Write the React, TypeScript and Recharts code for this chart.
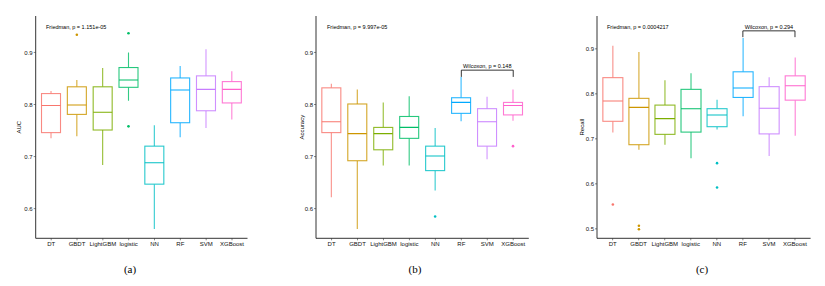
import React from 'react';
import { ComposedChart, Bar, XAxis, YAxis, ReferenceLine } from 'recharts';

const categories = ['DT', 'GBDT', 'LightGBM', 'logistic', 'NN', 'RF', 'SVM', 'XGBoost'];
const colors = ['#F8766D', '#CD9600', '#7CAE00', '#00BE67', '#00BFC4', '#00A9FF', '#C77CFF', '#FF61CC'];

const aucLow = [0.735, 0.739, 0.684, 0.807, 0.561, 0.737, 0.755, 0.771];
const aucQ1 = [0.746, 0.781, 0.751, 0.833, 0.647, 0.765, 0.788, 0.803];
const aucMed = [0.798, 0.799, 0.785, 0.847, 0.688, 0.828, 0.829, 0.829];
const aucQ3 = [0.821, 0.834, 0.834, 0.871, 0.72, 0.851, 0.855, 0.844];
const aucHigh = [0.826, 0.847, 0.87, 0.9, 0.76, 0.874, 0.906, 0.864];
const aucOut = [[], [0.934], [], [0.937, 0.758], [], [], [], []];

const accLow = [0.622, 0.561, 0.683, 0.683, 0.635, 0.768, 0.695, 0.769];
const accQ1 = [0.746, 0.692, 0.713, 0.735, 0.673, 0.783, 0.72, 0.78];
const accMed = [0.767, 0.744, 0.744, 0.756, 0.701, 0.804, 0.767, 0.798];
const accQ3 = [0.832, 0.801, 0.756, 0.777, 0.72, 0.813, 0.792, 0.804];
const accHigh = [0.84, 0.829, 0.804, 0.816, 0.755, 0.853, 0.815, 0.829];
const accOut = [[], [], [], [], [0.585], [], [], [0.72]];

const recLow = [0.714, 0.676, 0.687, 0.657, 0.721, 0.75, 0.662, 0.707];
const recQ1 = [0.739, 0.687, 0.71, 0.715, 0.727, 0.792, 0.711, 0.786];
const recMed = [0.784, 0.77, 0.745, 0.767, 0.753, 0.813, 0.768, 0.818];
const recQ3 = [0.836, 0.79, 0.775, 0.81, 0.767, 0.849, 0.816, 0.84];
const recHigh = [0.907, 0.893, 0.83, 0.846, 0.787, 0.924, 0.837, 0.881];
const recOut = [[0.554], [0.507, 0.499], [], [], [0.646, 0.592], [], [], []];

const aucTicks = [0.6, 0.7, 0.8, 0.9];
const accTicks = [0.6, 0.7, 0.8, 0.9];
const recTicks = [0.5, 0.6, 0.7, 0.8, 0.9];

function build(low: number[], q1: number[], med: number[], q3: number[], high: number[], out: number[][]) {
  return categories.map((name, i) => ({
    name,
    range: [low[i], high[i]],
    low: low[i],
    q1: q1[i],
    med: med[i],
    q3: q3[i],
    high: high[i],
    out: out[i],
    color: colors[i],
  }));
}

const BoxShape = (props: any) => {
  const { x, y, width, height, payload } = props;
  const hi = payload.high;
  const lo = payload.low;
  const yOf = (v: number) => y + (height * (hi - v)) / (hi - lo);
  const cx = x + width / 2;
  const c = payload.color;
  const sw = 1.1;
  return (
    <g>
      <line x1={cx} x2={cx} y1={yOf(hi)} y2={yOf(payload.q3)} stroke={c} strokeWidth={sw} strokeOpacity={0.8} />
      <line x1={cx} x2={cx} y1={yOf(payload.q1)} y2={yOf(lo)} stroke={c} strokeWidth={sw} strokeOpacity={0.8} />
      <rect x={x} y={yOf(payload.q3)} width={width} height={yOf(payload.q1) - yOf(payload.q3)} fill="#fff" stroke={c} strokeWidth={sw} strokeOpacity={0.85} />
      <line x1={x} x2={x + width} y1={yOf(payload.med)} y2={yOf(payload.med)} stroke={c} strokeWidth={sw} />
      {payload.out.map((v: number, k: number) => (
        <circle key={k} cx={cx} cy={yOf(v)} r={1.3} fill={c} />
      ))}
    </g>
  );
};

const font = '"Liberation Sans", Arial, Helvetica, sans-serif';

type PanelProps = {
  data: any[];
  left: number;
  right: number;
  domain: [number, number];
  ticks: number[];
  title: string;
  titleOffset: number;
  friedman: string;
  friedmanX: number;
  wilcoxon?: { label: string; y: number; drop: number };
};

function Panel({ data, left, right, domain, ticks, title, titleOffset, friedman, friedmanX, wilcoxon }: PanelProps) {
  const W = right - left;
  const step = W / 8.2;
  const pad = 0.1 * step;
  return (
    <div style={{ position: 'relative', width: 275, height: 260 }}>
      <ComposedChart
        width={275}
        height={260}
        data={data}
        margin={{ top: 16, right: 275 - right, left: 0, bottom: 7.7 }}
        barCategoryGap="12.5%"
      >
        <XAxis
          dataKey="name"
          type="category"
          padding={{ left: pad, right: pad }}
          height={14}
          tickSize={2}
          tickMargin={1}
          interval={0}
          axisLine={{ stroke: '#000', strokeWidth: 0.8 }}
          tickLine={{ stroke: '#333', strokeWidth: 0.6 }}
          tick={{ fontSize: 6, fill: '#111', fontFamily: font }}
        />
        <YAxis
          type="number"
          domain={domain}
          ticks={ticks}
          width={left}
          allowDataOverflow
          tickSize={2}
          tickMargin={1}
          tickFormatter={(v: number) => v.toFixed(1)}
          axisLine={{ stroke: '#000', strokeWidth: 0.8 }}
          tickLine={{ stroke: '#333', strokeWidth: 0.6 }}
          tick={{ fontSize: 6, fill: '#111', fontFamily: font }}
          label={{ value: title, angle: -90, position: 'insideLeft', offset: titleOffset, fontSize: 6, fill: '#000', fontFamily: font, style: { textAnchor: 'middle' } }}
        />
        <Bar dataKey="range" shape={BoxShape} isAnimationActive={false} />
        {wilcoxon && (
          <ReferenceLine
            segment={[{ x: 'RF', y: wilcoxon.y }, { x: 'XGBoost', y: wilcoxon.y }]}
            stroke="#000"
            strokeWidth={0.8}
            ifOverflow="visible"
            label={{ value: wilcoxon.label, position: 'top', offset: 2, fontSize: 5.5, fill: '#000', fontFamily: font }}
          />
        )}
        {wilcoxon && (
          <ReferenceLine
            segment={[{ x: 'RF', y: wilcoxon.drop }, { x: 'RF', y: wilcoxon.y }]}
            stroke="#000"
            strokeWidth={0.8}
            ifOverflow="visible"
          />
        )}
        {wilcoxon && (
          <ReferenceLine
            segment={[{ x: 'XGBoost', y: wilcoxon.drop }, { x: 'XGBoost', y: wilcoxon.y }]}
            stroke="#000"
            strokeWidth={0.8}
            ifOverflow="visible"
          />
        )}
      </ComposedChart>
      <div
        style={{
          position: 'absolute',
          left: friedmanX,
          top: 23.5,
          fontSize: 5.5,
          lineHeight: '7px',
          fontFamily: font,
          color: '#000',
          whiteSpace: 'nowrap',
        }}
      >
        {friedman}
      </div>
    </div>
  );
}

export default function App() {
  const aucData = build(aucLow, aucQ1, aucMed, aucQ3, aucHigh, aucOut);
  const accData = build(accLow, accQ1, accMed, accQ3, accHigh, accOut);
  const recData = build(recLow, recQ1, recMed, recQ3, recHigh, recOut);
  const cap: React.CSSProperties = {
    position: 'absolute',
    top: 263,
    fontFamily: "'Liberation Serif', serif",
    fontWeight: 400,
    fontSize: 11,
    lineHeight: '13px',
    width: 40,
    textAlign: 'center',
    color: '#000',
  };
  return (
    <div style={{ position: 'absolute', left: 0, top: 0, width: 825, height: 286, background: '#fff' }}>
      <div style={{ display: 'flex', flexDirection: 'row' }}>
        <Panel data={aucData} left={35.7} right={247.5} domain={[0.543, 0.97]} ticks={aucTicks} title="AUC" titleOffset={19} friedman="Friedman, p = 1.151e-05" friedmanX={46} />
        <Panel data={accData} left={41} right={253.8} domain={[0.543, 0.97]} ticks={accTicks} title="Accuracy" titleOffset={26.7} friedman="Friedman, p = 9.997e-05" friedmanX={52} wilcoxon={{ label: 'Wilcoxon, p = 0.148', y: 0.866, drop: 0.853 }} />
        <Panel data={recData} left={47} right={260.6} domain={[0.479, 0.973]} ticks={recTicks} title="Recall" titleOffset={31.7} friedman="Friedman, p = 0.0004217" friedmanX={57} wilcoxon={{ label: 'Wilcoxon, p = 0.294', y: 0.94, drop: 0.926 }} />
      </div>
      <div style={{ ...cap, left: 110 }}>(a)</div>
      <div style={{ ...cap, left: 395 }}>(b)</div>
      <div style={{ ...cap, left: 682 }}>(c)</div>
    </div>
  );
}
